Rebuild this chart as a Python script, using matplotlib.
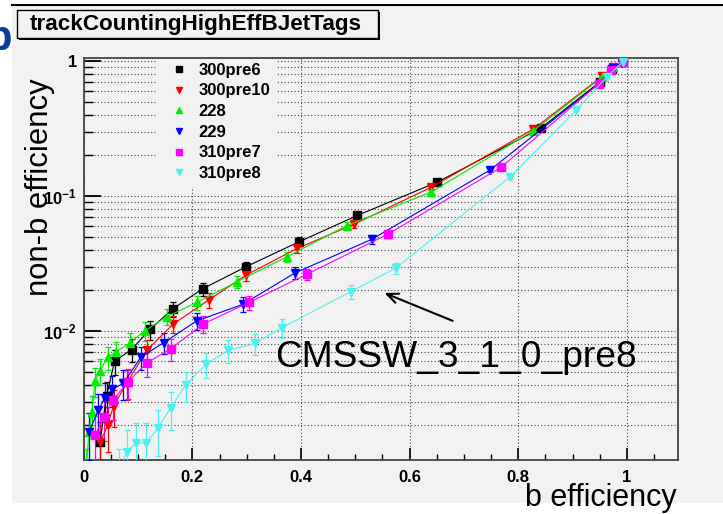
import numpy as np
import matplotlib
matplotlib.use("Agg")
import matplotlib.pyplot as plt
from matplotlib.lines import Line2D
from matplotlib.patches import Rectangle
from matplotlib.ticker import MultipleLocator, LogLocator, NullFormatter, FuncFormatter

plt.rcParams['font.family'] = ['Liberation Sans', 'DejaVu Sans']
plt.rcParams['mathtext.fontset'] = 'custom'
plt.rcParams['mathtext.rm'] = 'Liberation Sans'
plt.rcParams['mathtext.bf'] = 'Liberation Sans:bold'

# b efficiency / non-b efficiency / relative error for each release
x_300pre6 = [0.030, 0.042, 0.057, 0.088, 0.122, 0.164, 0.219, 0.299, 0.397, 0.504, 0.651, 0.842, 0.950, 0.972, 0.993]
y_300pre6 = [0.0015, 0.0033, 0.0060, 0.0073, 0.0103, 0.0146, 0.0206, 0.030, 0.046, 0.072, 0.127, 0.32, 0.70, 0.88, 0.98]
e_300pre6 = [0.41, 0.28, 0.21, 0.19, 0.16, 0.13, 0.11, 0.09, 0.075, 0.06, 0.045, 0.03, 0.02, 0.015, 0.01]

x_300pre10 = [0.030, 0.044, 0.055, 0.079, 0.116, 0.165, 0.230, 0.299, 0.393, 0.498, 0.639, 0.828, 0.954, 0.975, 0.993]
y_300pre10 = [0.0015, 0.0020, 0.0028, 0.0041, 0.0072, 0.0113, 0.0170, 0.026, 0.041, 0.062, 0.116, 0.314, 0.77, 0.90, 0.98]
e_300pre10 = [0.41, 0.36, 0.30, 0.25, 0.19, 0.15, 0.12, 0.10, 0.08, 0.065, 0.047, 0.03, 0.02, 0.015, 0.01]

x_228 = [0.004, 0.0098, 0.015, 0.021, 0.030, 0.044, 0.0595, 0.085, 0.112, 0.153, 0.208, 0.282, 0.374, 0.484, 0.639, 0.828, 0.954, 0.975, 0.993]
y_228 = [0.0009, 0.0018, 0.0025, 0.0043, 0.0051, 0.0064, 0.0070, 0.0082, 0.0100, 0.0128, 0.0163, 0.0232, 0.0355, 0.0604, 0.107, 0.305, 0.76, 0.90, 0.98]
e_228 = [0.5, 0.38, 0.32, 0.24, 0.22, 0.2, 0.19, 0.18, 0.16, 0.14, 0.125, 0.105, 0.085, 0.065, 0.05, 0.03, 0.02, 0.015, 0.01]

x_229 = [0.010, 0.027, 0.039, 0.052, 0.073, 0.105, 0.147, 0.208, 0.293, 0.389, 0.530, 0.748, 0.948, 0.975, 0.990]
y_229 = [0.0018, 0.0026, 0.0032, 0.0037, 0.0041, 0.0064, 0.0082, 0.0119, 0.0158, 0.027, 0.0478, 0.156, 0.68, 0.89, 0.97]
e_229 = [0.38, 0.31, 0.28, 0.26, 0.25, 0.2, 0.18, 0.15, 0.13, 0.1, 0.073, 0.04, 0.02, 0.015, 0.01]

x_310pre7 = [0.021, 0.037, 0.0545, 0.081, 0.116, 0.160, 0.220, 0.304, 0.411, 0.560, 0.768, 0.948, 0.970, 0.993]
y_310pre7 = [0.0017, 0.0023, 0.0031, 0.0042, 0.0058, 0.0074, 0.0113, 0.0163, 0.0264, 0.0523, 0.163, 0.68, 0.86, 0.98]
e_310pre7 = [0.39, 0.33, 0.29, 0.25, 0.21, 0.19, 0.15, 0.125, 0.1, 0.07, 0.04, 0.02, 0.015, 0.01]

x_310pre8 = [0.065, 0.079, 0.096, 0.115, 0.136, 0.160, 0.188, 0.2255, 0.266, 0.3155, 0.3646, 0.4917, 0.575, 0.785, 0.907, 0.963, 0.993]
y_310pre8 = [0.0009, 0.00128, 0.00148, 0.00148, 0.0019, 0.0027, 0.0040, 0.0057, 0.0072, 0.0081, 0.0106, 0.0196, 0.0294, 0.139, 0.434, 0.765, 0.99]
e_310pre8 = [0.5, 0.45, 0.42, 0.42, 0.37, 0.31, 0.25, 0.21, 0.19, 0.18, 0.155, 0.115, 0.093, 0.043, 0.024, 0.018, 0.01]

labels = ['300pre6', '300pre10', '228', '229', '310pre7', '310pre8']
xs = [x_300pre6, x_300pre10, x_228, x_229, x_310pre7, x_310pre8]
ys = [y_300pre6, y_300pre10, y_228, y_229, y_310pre7, y_310pre8]
es = [e_300pre6, e_300pre10, e_228, e_229, e_310pre7, e_310pre8]
colors = ['black', '#ff0000', '#00ee00', '#0000ff', '#ff00ff', '#4ff0f0']
markers = ['s', 'v', '^', 'v', 's', 'v']

W, H = 723, 514
fig = plt.figure(figsize=(W / 100, H / 100), dpi=100, facecolor='white')

# canvas background and top rule
fig.patches.append(Rectangle((12 / W, 11 / H), 1 - 12 / W, (503 - 6) / H,
                             transform=fig.transFigure, facecolor='#f2f2f2',
                             edgecolor='none', zorder=-5))
fig.add_artist(Line2D([12 / W, 1], [1 - 5 / H, 1 - 5 / H], color='black', lw=1.5,
                      transform=fig.transFigure))
fig.text(-14 / W, 1 - 50 / H, 'b', fontsize=30, fontweight='bold', color='#0d3a9c',
         ha='left', va='baseline')

ax = fig.add_axes([83.7 / W, 1 - 460 / H, (678 - 83.7) / W, (460 - 57.7) / H])
ax.set_zorder(1)
ax.set_facecolor('#f2f2f2')
ax.set_yscale('log')
ax.set_xlim(0, 1.094)
ax.set_ylim(1.11e-3, 1.06)

for x, y, e, c, m in zip(xs, ys, es, colors, markers):
    y = np.array(y)
    err = y * np.array(e)
    ax.errorbar(x, y, yerr=err, color=c, marker=m, markersize=5.8, lw=0.8,
                elinewidth=0.9, capsize=2.5, capthick=0.9, zorder=3)

# axes, ticks and grid
ax.xaxis.set_major_locator(MultipleLocator(0.2))
ax.xaxis.set_minor_locator(MultipleLocator(0.05))
ax.xaxis.set_major_formatter(FuncFormatter(lambda v, p: '%g' % round(v, 2)))
ax.yaxis.set_major_locator(LogLocator(base=10))
ax.yaxis.set_minor_locator(LogLocator(base=10, subs=np.arange(2, 10)))
ax.yaxis.set_minor_formatter(NullFormatter())


def ylab(v, pos):
    if abs(v - 1) < 1e-9:
        return '1'
    return r'$\mathbf{10^{%d}}$' % int(round(np.log10(v)))


ax.yaxis.set_major_formatter(FuncFormatter(ylab))
ax.tick_params(axis='x', which='major', direction='in', length=9, width=1.2, pad=7,
               labelsize=12, top=False)
ax.tick_params(axis='x', which='minor', direction='in', length=4.5, width=1.0, top=False)
ax.tick_params(axis='y', which='major', direction='in', length=12.5, width=1.3, pad=5,
               labelsize=12, right=False)
ax.tick_params(axis='y', which='minor', direction='in', length=6.5, width=1.0, right=False)
for t in ax.get_xticklabels() + ax.get_yticklabels():
    t.set_fontweight('bold')
for s in ax.spines.values():
    s.set_color('#444444')
    s.set_linewidth(1.3)

ax.grid(True, which='major', axis='x', color='#444444', lw=0.8, linestyle=(0, (1, 2)))
ax.grid(True, which='both', axis='y', color='#444444', lw=0.8, linestyle=(0, (1, 2)))
ax.set_axisbelow(True)

handles = [Line2D([], [], color=c, marker=m, linestyle='none', markersize=4.5)
           for c, m in zip(colors, markers)]
leg = ax.legend(handles, labels, loc='upper left', bbox_to_anchor=((157 - 83.7) / (678 - 83.7), 1.0),
                borderaxespad=0, borderpad=0.3, labelspacing=0.34, handlelength=2.0,
                handletextpad=0.2, frameon=True, fancybox=False, framealpha=1,
                facecolor='#f2f2f2', edgecolor='#f2f2f2',
                prop={'size': 12, 'weight': 'bold'})
leg.set_zorder(2)

# note on the 310pre8 curve
ax.annotate('', xy=(0.549, 0.0195), xytext=(0.684, 0.0117),
            arrowprops=dict(arrowstyle='->,head_length=0.8,head_width=0.35', color='black', lw=1.5))
ax.text(0.352, 0.0054, 'CMSSW_3_1_0_pre8', fontsize=26.7, ha='left', va='baseline', zorder=5)

# title box
fig.patches.append(Rectangle((19 / W, 1 - 40 / H), 361 / W, 28 / H, transform=fig.transFigure,
                             facecolor='black', edgecolor='none', zorder=1))
fig.patches.append(Rectangle((17 / W, 1 - 38 / H), 361 / W, 28 / H, transform=fig.transFigure,
                             facecolor='#f2f2f2', edgecolor='black', lw=1.0, zorder=2))
fig.text(196 / W, 1 - 24 / H, 'trackCountingHighEffBJetTags', fontsize=16.2, fontweight='bold',
         ha='center', va='center', zorder=3)

fig.text(40 / W, 1 - 187 / H, 'non-b efficiency', fontsize=22.3, rotation=90,
         ha='center', va='center')
fig.text(677 / W, 8 / H, 'b efficiency', fontsize=22, ha='right', va='baseline')

fig.savefig('out.png', dpi=100, facecolor='white')
